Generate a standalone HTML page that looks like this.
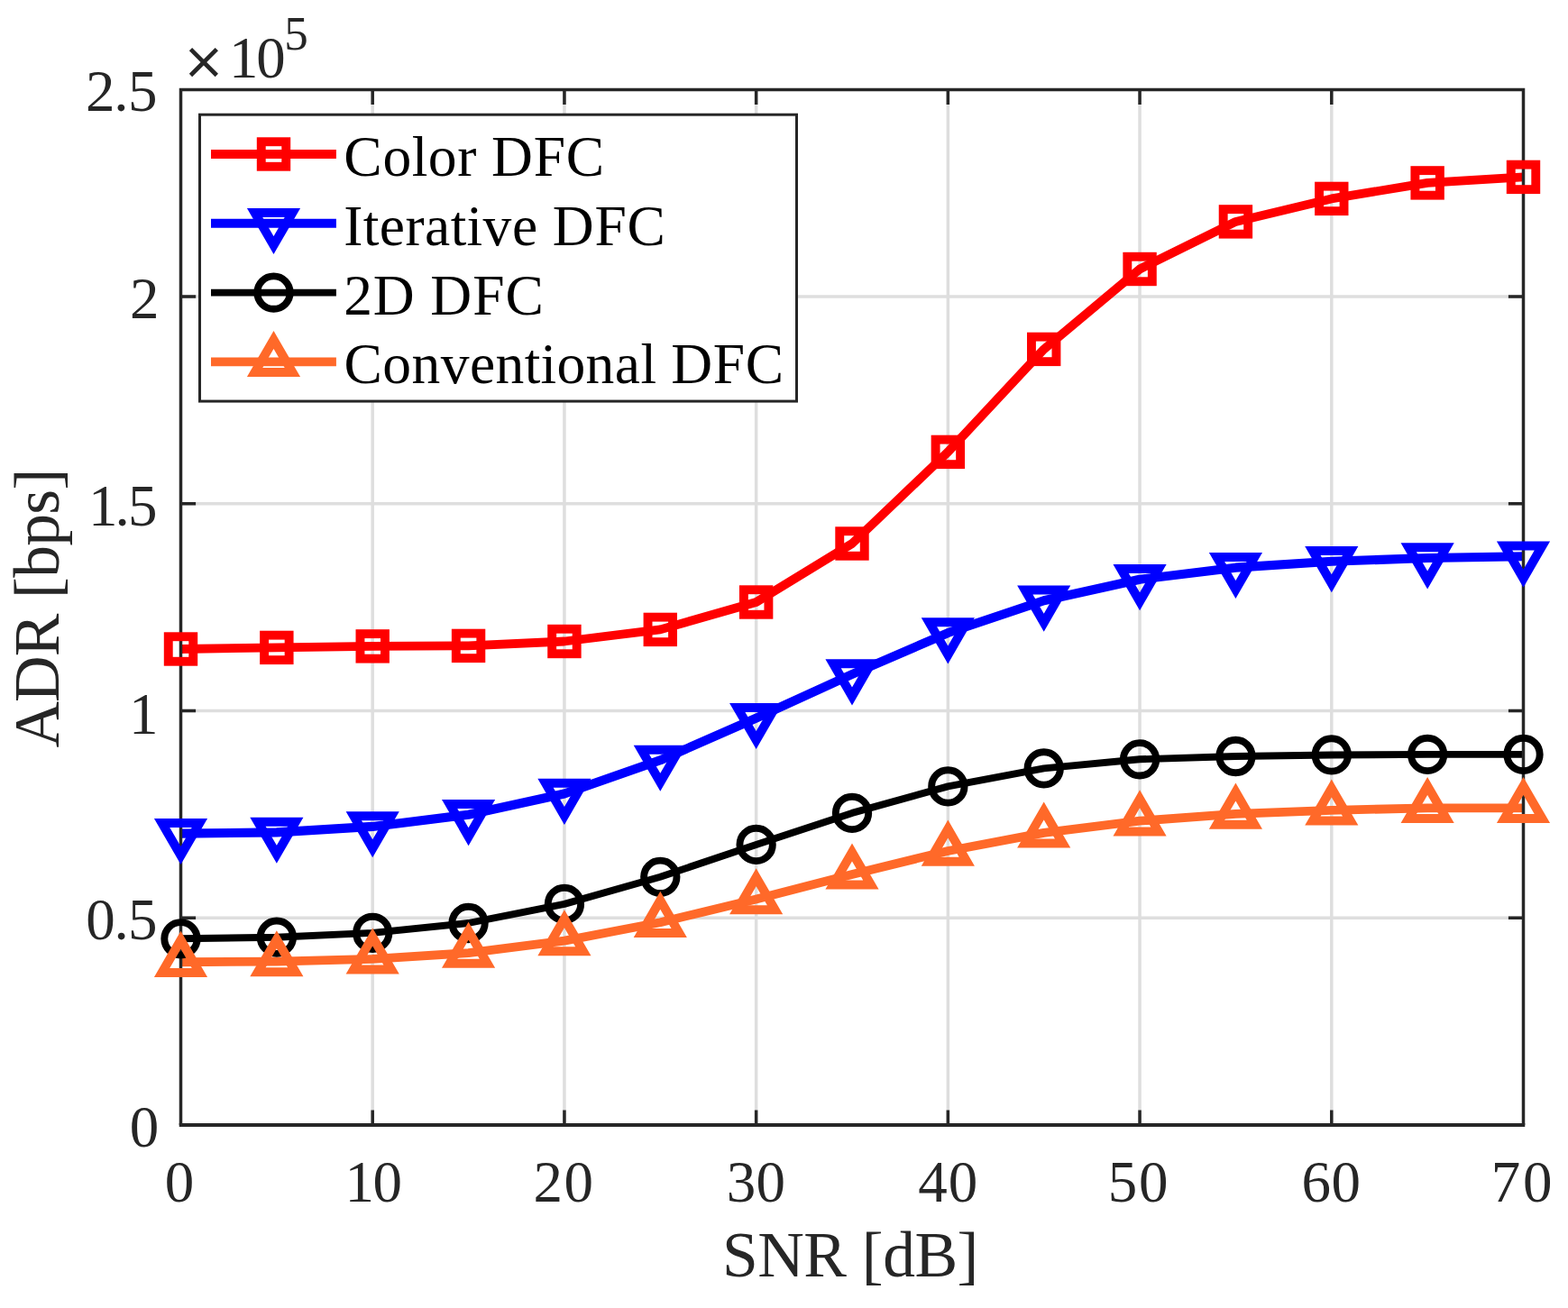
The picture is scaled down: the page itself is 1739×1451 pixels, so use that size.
<!DOCTYPE html>
<html><head><meta charset="utf-8"><title>ADR vs SNR</title><style>
html,body{margin:0;padding:0;background:#fff;width:1739px;height:1451px;overflow:hidden}
svg{display:block}
</style></head><body>
<svg width="1739" height="1451" viewBox="0 0 1739 1451">
<rect width="1739" height="1451" fill="#fff"/>
<path d="M413.21,99.4V1248.0M625.93,99.4V1248.0M838.64,99.4V1248.0M1051.36,99.4V1248.0M1264.07,99.4V1248.0M1476.79,99.4V1248.0M200.5,1018.28H1689.5M200.5,788.56H1689.5M200.5,558.84H1689.5M200.5,329.12H1689.5" stroke="#dedede" stroke-width="3.5" fill="none"/>
<path d="M413.21,1248.0v-16.6M413.21,99.4v16.6M625.93,1248.0v-16.6M625.93,99.4v16.6M838.64,1248.0v-16.6M838.64,99.4v16.6M1051.36,1248.0v-16.6M1051.36,99.4v16.6M1264.07,1248.0v-16.6M1264.07,99.4v16.6M1476.79,1248.0v-16.6M1476.79,99.4v16.6M200.5,1018.28h16.6M1689.5,1018.28h-16.6M200.5,788.56h16.6M1689.5,788.56h-16.6M200.5,558.84h16.6M1689.5,558.84h-16.6M200.5,329.12h16.6M1689.5,329.12h-16.6" stroke="#262626" stroke-width="3.5" fill="none"/>
<polyline points="200.50,720.00 306.86,718.40 413.21,716.90 519.57,716.40 625.93,711.50 732.29,698.40 838.64,668.00 945.00,603.00 1051.36,501.40 1157.71,387.40 1264.07,298.50 1370.43,245.90 1476.79,220.40 1583.14,202.90 1689.50,196.40" fill="none" stroke="#ff0000" stroke-width="9.8" stroke-linejoin="round"/>
<polyline points="200.50,924.60 306.86,923.40 413.21,916.90 519.57,903.75 625.93,880.50 732.29,843.35 838.64,796.70 945.00,748.00 1051.36,702.05 1157.71,666.25 1264.07,642.75 1370.43,629.65 1476.79,622.75 1583.14,619.00 1689.50,617.25" fill="none" stroke="#0000ff" stroke-width="10.1" stroke-linejoin="round"/>
<polyline points="200.50,1041.30 306.86,1039.70 413.21,1034.90 519.57,1024.00 625.93,1002.90 732.29,972.80 838.64,936.90 945.00,901.90 1051.36,872.40 1157.71,852.40 1264.07,842.30 1370.43,839.00 1476.79,837.45 1583.14,836.90 1689.50,836.90" fill="none" stroke="#000000" stroke-width="7.9" stroke-linejoin="round"/>
<polyline points="200.50,1067.25 306.86,1066.65 413.21,1063.90 519.57,1057.15 625.93,1043.60 732.29,1023.20 838.64,997.55 945.00,969.90 1051.36,943.95 1157.71,923.90 1264.07,910.70 1370.43,902.95 1476.79,898.85 1583.14,896.40 1689.50,896.35" fill="none" stroke="#ff6929" stroke-width="9.8" stroke-linejoin="round"/>
<path d="M200.5,1248.0V99.4H1689.5V1248.0" fill="none" stroke="#262626" stroke-width="3.5" stroke-linejoin="miter"/>
<path d="M198.75,1248.0H1691.25" fill="none" stroke="#262626" stroke-width="4"/>
<rect x="186.75" y="706.25" width="27.5" height="27.5" fill="none" stroke="#ff0000" stroke-width="9.9"/>
<rect x="293.11" y="704.65" width="27.5" height="27.5" fill="none" stroke="#ff0000" stroke-width="9.9"/>
<rect x="399.46" y="703.15" width="27.5" height="27.5" fill="none" stroke="#ff0000" stroke-width="9.9"/>
<rect x="505.82" y="702.65" width="27.5" height="27.5" fill="none" stroke="#ff0000" stroke-width="9.9"/>
<rect x="612.18" y="697.75" width="27.5" height="27.5" fill="none" stroke="#ff0000" stroke-width="9.9"/>
<rect x="718.54" y="684.65" width="27.5" height="27.5" fill="none" stroke="#ff0000" stroke-width="9.9"/>
<rect x="824.89" y="654.25" width="27.5" height="27.5" fill="none" stroke="#ff0000" stroke-width="9.9"/>
<rect x="931.25" y="589.25" width="27.5" height="27.5" fill="none" stroke="#ff0000" stroke-width="9.9"/>
<rect x="1037.61" y="487.65" width="27.5" height="27.5" fill="none" stroke="#ff0000" stroke-width="9.9"/>
<rect x="1143.96" y="373.65" width="27.5" height="27.5" fill="none" stroke="#ff0000" stroke-width="9.9"/>
<rect x="1250.32" y="284.75" width="27.5" height="27.5" fill="none" stroke="#ff0000" stroke-width="9.9"/>
<rect x="1356.68" y="232.15" width="27.5" height="27.5" fill="none" stroke="#ff0000" stroke-width="9.9"/>
<rect x="1463.04" y="206.65" width="27.5" height="27.5" fill="none" stroke="#ff0000" stroke-width="9.9"/>
<rect x="1569.39" y="189.15" width="27.5" height="27.5" fill="none" stroke="#ff0000" stroke-width="9.9"/>
<rect x="1675.75" y="182.65" width="27.5" height="27.5" fill="none" stroke="#ff0000" stroke-width="9.9"/>
<path d="M179.60,912.90H221.40L200.50,949.00Z" fill="none" stroke="#0000ff" stroke-width="10" stroke-miterlimit="10"/>
<path d="M285.96,911.70H327.76L306.86,947.80Z" fill="none" stroke="#0000ff" stroke-width="10" stroke-miterlimit="10"/>
<path d="M392.31,905.20H434.11L413.21,941.30Z" fill="none" stroke="#0000ff" stroke-width="10" stroke-miterlimit="10"/>
<path d="M498.67,892.05H540.47L519.57,928.15Z" fill="none" stroke="#0000ff" stroke-width="10" stroke-miterlimit="10"/>
<path d="M605.03,868.80H646.83L625.93,904.90Z" fill="none" stroke="#0000ff" stroke-width="10" stroke-miterlimit="10"/>
<path d="M711.39,831.65H753.19L732.29,867.75Z" fill="none" stroke="#0000ff" stroke-width="10" stroke-miterlimit="10"/>
<path d="M817.74,785.00H859.54L838.64,821.10Z" fill="none" stroke="#0000ff" stroke-width="10" stroke-miterlimit="10"/>
<path d="M924.10,736.30H965.90L945.00,772.40Z" fill="none" stroke="#0000ff" stroke-width="10" stroke-miterlimit="10"/>
<path d="M1030.46,690.35H1072.26L1051.36,726.45Z" fill="none" stroke="#0000ff" stroke-width="10" stroke-miterlimit="10"/>
<path d="M1136.81,654.55H1178.61L1157.71,690.65Z" fill="none" stroke="#0000ff" stroke-width="10" stroke-miterlimit="10"/>
<path d="M1243.17,631.05H1284.97L1264.07,667.15Z" fill="none" stroke="#0000ff" stroke-width="10" stroke-miterlimit="10"/>
<path d="M1349.53,617.95H1391.33L1370.43,654.05Z" fill="none" stroke="#0000ff" stroke-width="10" stroke-miterlimit="10"/>
<path d="M1455.89,611.05H1497.69L1476.79,647.15Z" fill="none" stroke="#0000ff" stroke-width="10" stroke-miterlimit="10"/>
<path d="M1562.24,607.30H1604.04L1583.14,643.40Z" fill="none" stroke="#0000ff" stroke-width="10" stroke-miterlimit="10"/>
<path d="M1668.60,605.55H1710.40L1689.50,641.65Z" fill="none" stroke="#0000ff" stroke-width="10" stroke-miterlimit="10"/>
<circle cx="200.50" cy="1041.30" r="18.2" fill="none" stroke="#000000" stroke-width="7.9"/>
<circle cx="306.86" cy="1039.70" r="18.2" fill="none" stroke="#000000" stroke-width="7.9"/>
<circle cx="413.21" cy="1034.90" r="18.2" fill="none" stroke="#000000" stroke-width="7.9"/>
<circle cx="519.57" cy="1024.00" r="18.2" fill="none" stroke="#000000" stroke-width="7.9"/>
<circle cx="625.93" cy="1002.90" r="18.2" fill="none" stroke="#000000" stroke-width="7.9"/>
<circle cx="732.29" cy="972.80" r="18.2" fill="none" stroke="#000000" stroke-width="7.9"/>
<circle cx="838.64" cy="936.90" r="18.2" fill="none" stroke="#000000" stroke-width="7.9"/>
<circle cx="945.00" cy="901.90" r="18.2" fill="none" stroke="#000000" stroke-width="7.9"/>
<circle cx="1051.36" cy="872.40" r="18.2" fill="none" stroke="#000000" stroke-width="7.9"/>
<circle cx="1157.71" cy="852.40" r="18.2" fill="none" stroke="#000000" stroke-width="7.9"/>
<circle cx="1264.07" cy="842.30" r="18.2" fill="none" stroke="#000000" stroke-width="7.9"/>
<circle cx="1370.43" cy="839.00" r="18.2" fill="none" stroke="#000000" stroke-width="7.9"/>
<circle cx="1476.79" cy="837.45" r="18.2" fill="none" stroke="#000000" stroke-width="7.9"/>
<circle cx="1583.14" cy="836.90" r="18.2" fill="none" stroke="#000000" stroke-width="7.9"/>
<circle cx="1689.50" cy="836.90" r="18.2" fill="none" stroke="#000000" stroke-width="7.9"/>
<path d="M179.60,1078.95H221.40L200.50,1042.85Z" fill="none" stroke="#ff6929" stroke-width="10" stroke-miterlimit="10"/>
<path d="M285.96,1078.35H327.76L306.86,1042.25Z" fill="none" stroke="#ff6929" stroke-width="10" stroke-miterlimit="10"/>
<path d="M392.31,1075.60H434.11L413.21,1039.50Z" fill="none" stroke="#ff6929" stroke-width="10" stroke-miterlimit="10"/>
<path d="M498.67,1068.85H540.47L519.57,1032.75Z" fill="none" stroke="#ff6929" stroke-width="10" stroke-miterlimit="10"/>
<path d="M605.03,1055.30H646.83L625.93,1019.20Z" fill="none" stroke="#ff6929" stroke-width="10" stroke-miterlimit="10"/>
<path d="M711.39,1034.90H753.19L732.29,998.80Z" fill="none" stroke="#ff6929" stroke-width="10" stroke-miterlimit="10"/>
<path d="M817.74,1009.25H859.54L838.64,973.15Z" fill="none" stroke="#ff6929" stroke-width="10" stroke-miterlimit="10"/>
<path d="M924.10,981.60H965.90L945.00,945.50Z" fill="none" stroke="#ff6929" stroke-width="10" stroke-miterlimit="10"/>
<path d="M1030.46,955.65H1072.26L1051.36,919.55Z" fill="none" stroke="#ff6929" stroke-width="10" stroke-miterlimit="10"/>
<path d="M1136.81,935.60H1178.61L1157.71,899.50Z" fill="none" stroke="#ff6929" stroke-width="10" stroke-miterlimit="10"/>
<path d="M1243.17,922.40H1284.97L1264.07,886.30Z" fill="none" stroke="#ff6929" stroke-width="10" stroke-miterlimit="10"/>
<path d="M1349.53,914.65H1391.33L1370.43,878.55Z" fill="none" stroke="#ff6929" stroke-width="10" stroke-miterlimit="10"/>
<path d="M1455.89,910.55H1497.69L1476.79,874.45Z" fill="none" stroke="#ff6929" stroke-width="10" stroke-miterlimit="10"/>
<path d="M1562.24,908.10H1604.04L1583.14,872.00Z" fill="none" stroke="#ff6929" stroke-width="10" stroke-miterlimit="10"/>
<path d="M1668.60,908.05H1710.40L1689.50,871.95Z" fill="none" stroke="#ff6929" stroke-width="10" stroke-miterlimit="10"/>
<text x="182.65" y="1332.5" font-family='"Liberation Serif", "Times New Roman", serif' font-size="65" fill="#262626">0</text>
<text x="382.49 413.38" y="1332.5" font-family='"Liberation Serif", "Times New Roman", serif' font-size="65" fill="#262626">10</text>
<text x="591.54 625.38" y="1332.5" font-family='"Liberation Serif", "Times New Roman", serif' font-size="65" fill="#262626">20</text>
<text x="805.69 838.58" y="1332.5" font-family='"Liberation Serif", "Times New Roman", serif' font-size="65" fill="#262626">30</text>
<text x="1018.33 1051.78" y="1332.5" font-family='"Liberation Serif", "Times New Roman", serif' font-size="65" fill="#262626">40</text>
<text x="1228.72 1263.08" y="1332.5" font-family='"Liberation Serif", "Times New Roman", serif' font-size="65" fill="#262626">50</text>
<text x="1443.41 1476.48" y="1332.5" font-family='"Liberation Serif", "Times New Roman", serif' font-size="65" fill="#262626">60</text>
<text x="1653.82 1688.88" y="1332.5" font-family='"Liberation Serif", "Times New Roman", serif' font-size="65" fill="#262626">70</text>
<text x="95.04 126.31 141.94" y="122.6" font-family='"Liberation Serif", "Times New Roman", serif' font-size="65" fill="#262626">2.5</text>
<text x="144.06" y="352.9" font-family='"Liberation Serif", "Times New Roman", serif' font-size="65" fill="#262626">2</text>
<text x="98.09 127.39 142.04" y="582.9" font-family='"Liberation Serif", "Times New Roman", serif' font-size="65" fill="#262626">1.5</text>
<text x="143" y="813.6" font-family='"Liberation Serif", "Times New Roman", serif' font-size="65" fill="#262626">1</text>
<text x="95.32 126.47 142.04" y="1042.4" font-family='"Liberation Serif", "Times New Roman", serif' font-size="65" fill="#262626">0.5</text>
<text x="143.7" y="1272.3" font-family='"Liberation Serif", "Times New Roman", serif' font-size="65" fill="#262626">0</text>
<text x="202.06" y="86.8" font-family='"DejaVu Sans", sans-serif' font-size="57" fill="#262626">×</text>
<text x="254.1 284.27" y="86.1" font-family='"Liberation Serif", "Times New Roman", serif' font-size="64.8" fill="#262626">10</text>
<text x="315.25" y="55.2" font-family='"Liberation Serif", "Times New Roman", serif' font-size="53" fill="#262626">5</text>
<text x="801.12 840.32 891.22 938.24 955.86 979.34 1014.58 1061.6" y="1415.7" font-family='"Liberation Serif", "Times New Roman", serif' font-size="71.5" fill="#262626">SNR [dB]</text>
<g transform="rotate(-90)"><text x="-829.6 -778.98 -728.37 -681.62 -664.1 -640.76 -605.72 -570.68 -543.4" y="64.8" font-family='"Liberation Serif", "Times New Roman", serif' font-size="71.5" fill="#262626">ADR [bps]</text></g>
<rect x="221.5" y="127.2" width="662.0" height="317.90000000000003" fill="#fff" stroke="#262626" stroke-width="3"/>
<path d="M234,171.0H372.9" stroke="#ff0000" stroke-width="9.8"/>
<rect x="289.75" y="157.25" width="27.5" height="27.5" fill="none" stroke="#ff0000" stroke-width="9.9"/>
<text x="381.3 424.47 456.83 474.81 507.17 528.73 544.91 591.65 627.65" y="195" font-family='"Liberation Serif", "Times New Roman", serif' font-size="63.5" fill="#000">Color DFC</text>
<path d="M234,247.7H372.9" stroke="#0000ff" stroke-width="10.1"/>
<path d="M282.60,236.00H324.40L303.50,272.10Z" fill="none" stroke="#0000ff" stroke-width="10" stroke-miterlimit="10"/>
<text x="381.21 402.74 420.71 449.41 470.94 499.65 517.61 535.58 567.91 596.62 612.78 659.48 695.45" y="271.7" font-family='"Liberation Serif", "Times New Roman", serif' font-size="63.5" fill="#000">Iterative DFC</text>
<path d="M234,324.6H372.9" stroke="#000000" stroke-width="7.9"/>
<circle cx="303.50" cy="324.60" r="18.2" fill="none" stroke="#000000" stroke-width="7.9"/>
<text x="381.21 413.79 460.85 477.15 524.21 560.45" y="348.6" font-family='"Liberation Serif", "Times New Roman", serif' font-size="63.5" fill="#000">2D DFC</text>
<path d="M234,401.4H372.9" stroke="#ff6929" stroke-width="9.8"/>
<path d="M282.60,413.10H324.40L303.50,377.00Z" fill="none" stroke="#ff6929" stroke-width="10" stroke-miterlimit="10"/>
<text x="381.4 424.33 456.52 488.71 520.9 549.47 581.66 599.54 617.43 649.62 681.8 710.38 728.26 744.36 790.85 826.65" y="425.4" font-family='"Liberation Serif", "Times New Roman", serif' font-size="63.5" fill="#000">Conventional DFC</text>
</svg>
</body></html>
